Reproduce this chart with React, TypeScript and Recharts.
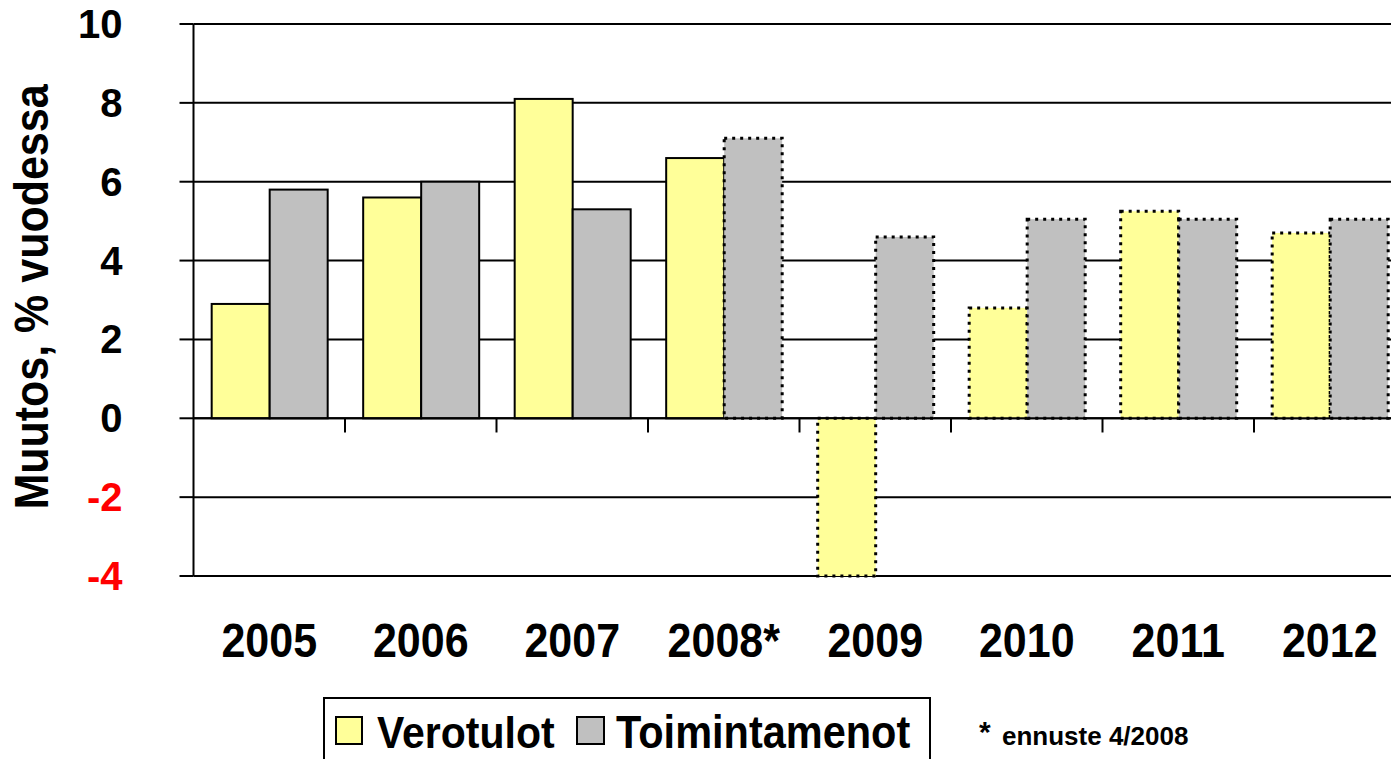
import React from 'react';
import {
  BarChart,
  Bar,
  XAxis,
  YAxis,
  CartesianGrid,
  ReferenceLine,
} from 'recharts';

// Vuodet ja muutokset, % vuodessa
const categories = ['2005', '2006', '2007', '2008*', '2009', '2010', '2011', '2012'];
const verotulot = [2.9, 5.6, 8.1, 6.6, -4.0, 2.8, 5.25, 4.7];
const toimintamenot = [5.8, 6.0, 5.3, 7.1, 4.6, 5.05, 5.05, 5.05];
// ennustearvot piirretään pisteviivareunalla
const verotulotEnnuste = [false, false, false, false, true, true, true, true];
const toimintamenotEnnuste = [false, false, false, true, true, true, true, true];
const yTicks = [-4, -2, 0, 2, 4, 6, 8, 10];

const FONT = '"Liberation Sans", Arial, sans-serif';
const YELLOW = '#FFFF99';
const GRAY = '#C0C0C0';

const data = categories.map((year, i) => ({
  year,
  verotulot: verotulot[i],
  toimintamenot: toimintamenot[i],
  vE: verotulotEnnuste[i],
  tE: toimintamenotEnnuste[i],
}));

// vierekkäiset vuosiparit -> väkänen niiden puoliväliin
const pairs = categories.slice(1).map((c, i) => [categories[i], c]);

const makeShape = (flagKey: 'vE' | 'tE') => (props: any) => {
  const { x, y, width, height, fill, payload } = props;
  const top = height < 0 ? y + height : y;
  const h = Math.abs(height);
  const dashed = payload && payload[flagKey];
  return (
    <rect
      x={x}
      y={top}
      width={width}
      height={h}
      fill={fill}
      stroke="#000"
      strokeWidth={dashed ? 3 : 2}
      strokeDasharray={dashed ? '3 5' : undefined}
    />
  );
};

const boundaryTick = (p: any) => {
  const mx = (p.x1 + p.x2) / 2;
  return <line x1={mx} x2={mx} y1={p.y1} y2={p.y2} stroke="#000" strokeWidth={2} />;
};

const YTick = (props: any) => {
  const { x, y, payload } = props;
  return (
    <text
      x={x}
      y={y + 14}
      textAnchor="end"
      fontFamily={FONT}
      fontWeight="bold"
      fontSize={40}
      fill={payload.value < 0 ? '#FF0000' : '#000'}
    >
      {payload.value}
    </text>
  );
};

const XTick = (props: any) => {
  const { x, y, payload } = props;
  return (
    <text
      transform={`translate(${x},${y + 81}) scale(1,1.1)`}
      textAnchor="middle"
      fontFamily={FONT}
      fontWeight="bold"
      fontSize={43}
      fill="#000"
    >
      {payload.value}
    </text>
  );
};

const YTitle = () => (
  <text
    transform="translate(48,297) rotate(-90) scale(1,1.1)"
    textAnchor="middle"
    fontFamily={FONT}
    fontWeight="bold"
    fontSize={43}
    fill="#000"
  >
    Muutos, % vuodessa
  </text>
);

export default function App() {
  return (
    <div
      style={{
        position: 'absolute',
        left: 0,
        top: 0,
        width: 1391,
        height: 759,
        overflow: 'hidden',
        background: '#fff',
      }}
    >
      <BarChart
        width={1420}
        height={759}
        data={data}
        margin={{ top: 24, right: 14.5, bottom: 123, left: 0 }}
        barCategoryGap="12%"
        barGap={0}
      >
        <CartesianGrid vertical={false} stroke="#000" strokeWidth={2} />
        <XAxis
          dataKey="year"
          height={60}
          axisLine={false}
          tickLine={false}
          tickSize={0}
          tickMargin={0}
          interval={0}
          tick={<XTick />}
        />
        <YAxis
          width={193.5}
          domain={[-4, 10]}
          ticks={yTicks}
          tickCount={8}
          interval={0}
          axisLine={{ stroke: '#000', strokeWidth: 2 }}
          tickLine={{ stroke: '#000', strokeWidth: 2 }}
          tickSize={14}
          tickMargin={57}
          tick={<YTick />}
        />
        <Bar
          dataKey="verotulot"
          fill={YELLOW}
          shape={makeShape('vE')}
          isAnimationActive={false}
        />
        <Bar
          dataKey="toimintamenot"
          fill={GRAY}
          shape={makeShape('tE')}
          isAnimationActive={false}
        />
        <ReferenceLine y={0} stroke="#000" strokeWidth={2} />
        {pairs.map(([a, b]) => (
          <ReferenceLine
            key={b}
            segment={[
              { x: a, y: 0 },
              { x: b, y: -0.36 },
            ]}
            shape={boundaryTick}
          />
        ))}
      </BarChart>

      <svg
        width={1391}
        height={759}
        style={{ position: 'absolute', left: 0, top: 0, pointerEvents: 'none' }}
      >
        <YTitle />
        {/* selite */}
        <rect x={324} y={698} width={606} height={80} fill="none" stroke="#000" strokeWidth={2} />
        <rect x={336} y={717} width={26} height={27} fill={YELLOW} stroke="#000" strokeWidth={2} />
        <text
          transform="translate(377,748) scale(1,1.1)"
          fontFamily={FONT}
          fontWeight="bold"
          fontSize={41}
          fill="#000"
        >
          Verotulot
        </text>
        <rect x={577} y={717} width={27} height={27} fill={GRAY} stroke="#000" strokeWidth={2} />
        <text
          transform="translate(616,748) scale(1,1.1)"
          fontFamily={FONT}
          fontWeight="bold"
          fontSize={41.5}
          fill="#000"
        >
          Toimintamenot
        </text>
        <text x={979} y={742} fontFamily={FONT} fontWeight="bold" fontSize={30} fill="#000">
          *
        </text>
        <text x={1002} y={745} fontFamily={FONT} fontWeight="bold" fontSize={26} fill="#000">
          ennuste 4/2008
        </text>
      </svg>
    </div>
  );
}
